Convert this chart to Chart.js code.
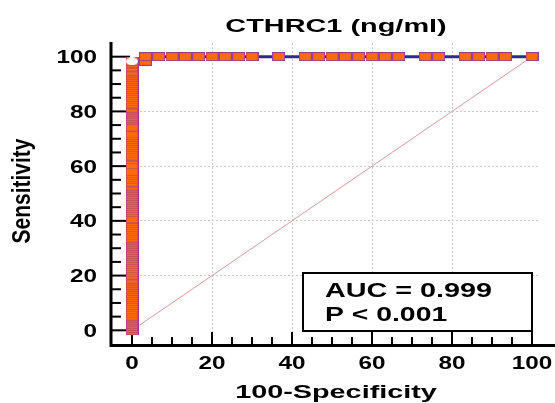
<!DOCTYPE html>
<html>
<head>
<meta charset="utf-8">
<script src="https://cdn.jsdelivr.net/npm/chart.js@4.4.0/dist/chart.umd.min.js"></script>
<style>
  body { margin: 0; background: #fff; }
  canvas { display: block; }
</style>
</head>
<body>
<canvas id="rocChart" width="555" height="403"></canvas>
<script>
// Values
const tickValues = [0, 20, 40, 60, 80, 100];
const minorStep = 5;

// sensitivity of every criterion point at 100-Specificity = 0
const zeroFprSens = [
    0, 0.7, 1.5, 2.2, 3.0, 3.7, 4.5, 5.2, 6.0, 6.7, 7.5, 8.2, 9.0, 9.7, 10.5, 11.2,
    12.0, 12.7, 13.5, 14.2, 15.0, 15.7, 16.5, 17.2, 18.0, 18.7, 19.5, 20.2, 21.0, 21.7,
    22.5, 23.2, 24.0, 24.7, 25.5, 26.2, 27.0, 27.7, 28.5, 29.2, 30.0, 30.7, 31.5, 32.2,
    33.0, 33.7, 34.5, 35.2, 36.0, 36.7, 37.5, 38.2, 39.0, 39.7, 40.5, 40.8,
    43.0, 43.7, 44.5, 45.2, 46.0, 46.7, 47.5, 48.2, 49.0, 49.7, 50.5, 51.2, 52.0, 52.7,
    53.5, 54.2, 55.0, 55.7, 56.5, 57.2, 58.0, 60.5,
    62.3, 63.0, 63.7, 64.5, 65.2, 66.0, 66.7, 67.5, 68.2, 69.0, 69.7, 70.5, 71.2, 71.8,
    74.3, 76.8, 77.5, 78.2, 79.0, 79.7, 80.5, 81.2, 82.0, 82.7, 83.5, 84.2, 85.0, 85.7, 86.5,
    87.2, 88.0, 88.7, 89.5, 90.2, 91.0, 91.7, 92.5, 93.2, 94.0, 94.7, 95.5, 96.2, 97.0,
    97.6, 98.3
];
// 100-Specificity of the points at sensitivity 100
const fullSensFpr = [
    3.33, 6.67, 10, 13.33, 16.67, 20, 23.33, 26.67, 30, 36.67, 43.33, 46.67, 50,
    53.33, 56.67, 60, 63.33, 66.67, 73.33, 76.67, 83.33, 86.67, 90, 93.33, 100
];
const cutoffFpr = [0];
const cutoffSens = [98.3];
const refFpr = [0, 100];
const refSens = [0, 100];

const chartTitle = 'CTHRC1 (ng/ml)';
const xTitle = '100-Specificity';
const yTitle = 'Sensitivity';
const statLines = ['AUC = 0.999', 'P < 0.001'];

const FONT = '"Liberation Sans", Arial, sans-serif';

// ROC path: up the left edge, one step right, then along the top
const rocPoints = [
    ...zeroFprSens.map(s => ({ x: 0, y: s })),
    { x: fullSensFpr[0], y: zeroFprSens[zeroFprSens.length - 1] },
    ...fullSensFpr.map(f => ({ x: f, y: 100 }))
];
const cutoffPoints = cutoffFpr.map((f, i) => ({ x: f, y: cutoffSens[i] }));
const refPoints = refFpr.map((f, i) => ({ x: f, y: refSens[i] }));

function makeMarker(w, h, fill, stroke, edgeAlpha, oval) {
    const c = document.createElement('canvas');
    c.width = w;
    c.height = h;
    const g = c.getContext('2d');
    g.fillStyle = fill;
    if (oval) {
        g.beginPath();
        g.ellipse(w / 2, h / 2, w / 2, h / 2, 0, 0, Math.PI * 2);
        g.fill();
    } else {
        g.fillRect(0, 0, w, h);
        g.fillStyle = stroke;
        g.fillRect(0, 0, 1, h);
        g.fillRect(w - 1, 0, 1, h);
        g.globalAlpha = edgeAlpha;
        g.fillRect(1, 0, w - 2, 1);
        g.fillRect(1, h - 1, w - 2, 1);
    }
    return c;
}

// stacked markers in the left column get lighter top/bottom edges so it stays orange
const squareMarker = makeMarker(13, 9, '#ff6a0a', '#9a3c98', 1, false);
const stackMarker = makeMarker(13, 9, '#ff6a0a', '#9a3c98', 0.55, false);
const cutoffMarker = makeMarker(12, 8, '#ffffff', null, 1, true);

// draw text stretched sideways like the reference
function wideText(ctx, text, x, y, sx, align, size) {
    ctx.save();
    ctx.translate(x, y);
    ctx.scale(sx, 1);
    ctx.font = `bold ${size}px ${FONT}`;
    ctx.fillStyle = '#000';
    ctx.textAlign = align;
    ctx.textBaseline = 'alphabetic';
    ctx.fillText(text, 0, 0);
    ctx.restore();
}

const rocDecor = {
    id: 'rocDecor',
    beforeDatasetsDraw(chart) {
        const { ctx, scales: { x, y } } = chart;
        const axisX = 111, axisY = 344;
        ctx.save();
        ctx.strokeStyle = '#000';
        ctx.lineWidth = 2;
        // ticks, pointing into the plot
        for (let v = 0; v <= 100; v += minorStep) {
            const major = tickValues.includes(v);
            const px = x.getPixelForValue(v);
            ctx.beginPath();
            ctx.moveTo(px, axisY);
            ctx.lineTo(px, axisY - (major ? 12 : 7));
            ctx.stroke();
            const py = y.getPixelForValue(v);
            ctx.beginPath();
            ctx.moveTo(axisX, py);
            ctx.lineTo(axisX + (major ? 19 : 10), py);
            ctx.stroke();
        }
        // axis lines
        ctx.lineWidth = 3;
        ctx.beginPath();
        ctx.moveTo(axisX, 42);
        ctx.lineTo(axisX, axisY + 1.5);
        ctx.lineTo(555, axisY + 1.5);
        ctx.stroke();
        ctx.restore();
    },
    afterDraw(chart) {
        const { ctx, scales: { x, y } } = chart;
        // tick labels
        tickValues.forEach(v => {
            wideText(ctx, String(v), x.getPixelForValue(v), 369, 1.35, 'center', 18);
            wideText(ctx, String(v), 97, y.getPixelForValue(v) + 6.5, 1.35, 'right', 18);
        });
        // titles
        wideText(ctx, chartTitle, 336, 32, 1.52, 'center', 19);
        wideText(ctx, xTitle, 336, 398, 1.6, 'center', 18);
        ctx.save();
        ctx.translate(30, 191);
        ctx.rotate(-Math.PI / 2);
        ctx.scale(1, 1.25);
        ctx.font = `bold 21px ${FONT}`;
        ctx.fillStyle = '#000';
        ctx.textAlign = 'center';
        ctx.fillText(yTitle, 0, 0);
        ctx.restore();
        // statistics box
        ctx.save();
        ctx.fillStyle = '#fff';
        ctx.fillRect(303, 273, 229, 58);
        ctx.strokeStyle = '#000';
        ctx.lineWidth = 2;
        ctx.strokeRect(303, 273, 229, 58);
        ctx.restore();
        wideText(ctx, statLines[0], 325, 297, 1.37, 'left', 21);
        wideText(ctx, statLines[1], 325, 321, 1.35, 'left', 21);
    }
};

const gridColor = c => (tickValues.includes(c.tick.value) ? '#c9c9c9' : 'transparent');
const zeroFit = s => { if (s.isHorizontal()) { s.height = 0; } else { s.width = 0; } };

new Chart(document.getElementById('rocChart'), {
    type: 'scatter',
    data: {
        datasets: [
            {
                label: 'Cutoff',
                data: cutoffPoints,
                pointStyle: cutoffMarker,
                pointRadius: 5,
                showLine: false
            },
            {
                label: 'ROC',
                data: rocPoints,
                showLine: true,
                borderColor: '#2c2c90',
                borderWidth: 3,
                pointStyle: c => (c.raw && c.raw.x === 0 ? stackMarker : squareMarker),
                pointRadius: 5
            },
            {
                label: 'Reference',
                data: refPoints,
                showLine: true,
                borderColor: '#d99a9a',
                borderWidth: 1,
                pointRadius: 0
            }
        ]
    },
    options: {
        responsive: false,
        animation: false,
        layout: { padding: { left: 112, right: 15, top: 43, bottom: 59 } },
        plugins: {
            legend: { display: false },
            title: { display: false },
            tooltip: { enabled: false }
        },
        scales: {
            x: {
                type: 'linear',
                min: -5,
                max: 102,
                ticks: { display: false, stepSize: 20 },
                grid: { color: gridColor, lineWidth: 1, drawTicks: false },
                border: { display: false, dash: [2, 2] },
                afterFit: zeroFit
            },
            y: {
                type: 'linear',
                min: -5,
                max: 105,
                ticks: { display: false, stepSize: 20 },
                grid: { color: gridColor, lineWidth: 1, drawTicks: false },
                border: { display: false, dash: [2, 2] },
                afterFit: zeroFit
            }
        }
    },
    plugins: [rocDecor]
});
</script>
</body>
</html>
